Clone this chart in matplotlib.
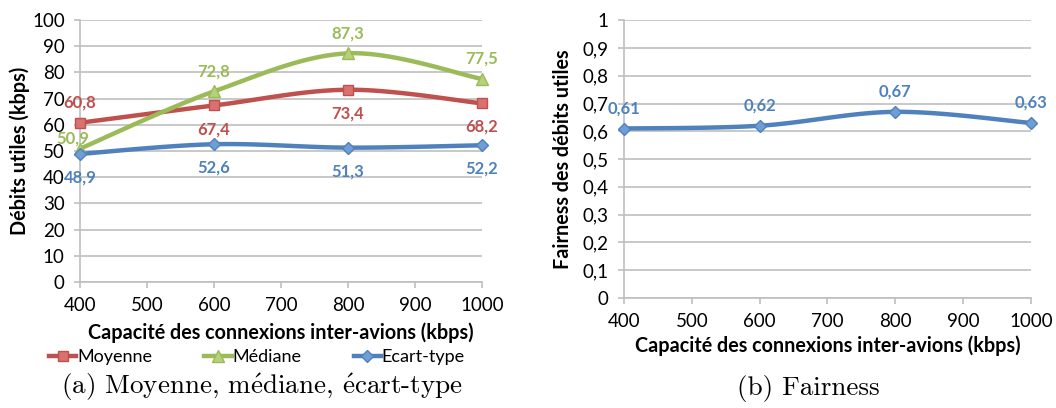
import numpy as np
import matplotlib
matplotlib.use("Agg")
import matplotlib.pyplot as plt

capacites = [400, 600, 800, 1000]
moyenne = [60.8, 67.4, 73.4, 68.2]
mediane = [50.9, 72.8, 87.3, 77.5]
ecart_type = [48.9, 52.6, 51.3, 52.2]
fairness = [0.61, 0.62, 0.67, 0.63]

x_ticks = [400, 500, 600, 700, 800, 900, 1000]
y_ticks_a = list(range(0, 101, 10))
y_ticks_b = [0, 0.1, 0.2, 0.3, 0.4, 0.5, 0.6, 0.7, 0.8, 0.9, 1]

RED = "#C0504D"; RED_F = "#D9716E"
GREEN = "#9BBB59"; GREEN_F = "#B5D17A"
BLUE = "#4F81BD"; BLUE_F = "#6F9DD6"
GRID = "#BFBFBF"
FONT = "Lato"

plt.rcParams['font.family'] = [FONT, 'DejaVu Sans']
plt.rcParams['mathtext.fontset'] = 'cm'


def smooth(xs, ys, n=40):
    xs = np.asarray(xs, float); ys = np.asarray(ys, float)
    P = np.column_stack([xs, ys])
    ext = np.vstack([P[0], P, P[-1]])
    out = []
    for i in range(len(P) - 1):
        p0, p1, p2, p3 = ext[i], ext[i + 1], ext[i + 2], ext[i + 3]
        c1 = p1 + (p2 - p0) / 6.0
        c2 = p2 - (p3 - p1) / 6.0
        t = np.linspace(0, 1, n)[:, None]
        b = ((1 - t) ** 3) * p1 + 3 * ((1 - t) ** 2) * t * c1 + 3 * (1 - t) * t ** 2 * c2 + t ** 3 * p2
        out.append(b if i == 0 else b[1:])
    B = np.vstack(out)
    return B[:, 0], B[:, 1]


def fmt(v, nd):
    return f"{v:.{nd}f}".replace(".", ",")


def style_axes(ax, yticks, ylim, yfmt):
    ax.set_xlim(400, 1000)
    ax.set_ylim(*ylim)
    ax.set_xticks(x_ticks)
    ax.set_yticks(yticks)
    ax.set_yticklabels([yfmt(v) for v in yticks])
    ax.grid(axis='y', color=GRID, linewidth=1.2)
    ax.set_axisbelow(True)
    for s in ['top', 'right']:
        ax.spines[s].set_visible(False)
    for s in ['left', 'bottom']:
        ax.spines[s].set_color(GRID)
        ax.spines[s].set_linewidth(1.2)
    ax.tick_params(axis='both', direction='out', length=4, width=1.2, color=GRID,
                   labelsize=13.5, labelcolor='black')
    ax.tick_params(axis='x', pad=7)
    ax.tick_params(axis='y', pad=7)


fig = plt.figure(figsize=(10.56, 4.08), dpi=100)
ax1 = fig.add_axes([0.0758, 0.3088, 0.3807, 0.642])
ax2 = fig.add_axes([0.5909, 0.2696, 0.3854, 0.681])

style_axes(ax1, y_ticks_a, (0, 100), lambda v: str(int(v)))
style_axes(ax2, y_ticks_b, (0, 1), lambda v: "0" if v == 0 else ("1" if v == 1 else fmt(v, 1)))

# label offsets (points): (dx, dy)
ABOVE = (0, 14.5)
BELOW = (0, -17)
series = [
    ("Moyenne", moyenne, RED, RED_F, 's', 7.5, [ABOVE, BELOW, BELOW, BELOW]),
    ("Médiane", mediane, GREEN, GREEN_F, '^', 8.5, [(-5.5, 7), ABOVE, ABOVE, ABOVE]),
    ("Ecart-type", ecart_type, BLUE, BLUE_F, 'D', 6.5, [BELOW, BELOW, BELOW, BELOW]),
]

handles = []
for name, vals, col, fcol, mk, ms, pos in series:
    sx, sy = smooth(capacites, vals)
    ax1.plot(sx, sy, color=col, linewidth=3.2, solid_capstyle='round', zorder=3, clip_on=False)
    ax1.plot(capacites, vals, linestyle='none', marker=mk, markersize=ms,
             markerfacecolor=fcol, markeredgecolor=col, markeredgewidth=1, zorder=4, clip_on=False)
    h, = ax1.plot([], [], color=col, linewidth=3.2, marker=mk, markersize=ms,
                  markerfacecolor=fcol, markeredgecolor=col, label=name)
    handles.append(h)
    for xv, yv, off in zip(capacites, vals, pos):
        ax1.annotate(fmt(yv, 1), (xv, yv), xytext=off, textcoords='offset points',
                     ha='center', va='center', fontsize=12, fontweight='bold', color=col,
                     annotation_clip=False, zorder=5)

sx, sy = smooth(capacites, fairness)
ax2.plot(sx, sy, color=BLUE, linewidth=3.2, solid_capstyle='round', zorder=3, clip_on=False)
ax2.plot(capacites, fairness, linestyle='none', marker='D', markersize=6.5,
         markerfacecolor=BLUE_F, markeredgecolor=BLUE, markeredgewidth=1, zorder=4, clip_on=False)
for xv, yv in zip(capacites, fairness):
    ax2.annotate(fmt(yv, 2), (xv, yv), xytext=(0, 14.5), textcoords='offset points',
                 ha='center', va='center', fontsize=12, fontweight='bold', color=BLUE,
                 annotation_clip=False, zorder=5)

ax1.set_xlabel("Capacité des connexions inter-avions (kbps)", fontsize=14.2, fontweight='bold')
ax1.set_ylabel("Débits utiles (kbps)", fontsize=14.2, fontweight='bold')
ax2.set_xlabel("Capacité des connexions inter-avions (kbps)", fontsize=14.2, fontweight='bold')
ax2.set_ylabel("Fairness des débits utiles", fontsize=14.2, fontweight='bold')
ax1.xaxis.set_label_coords(0.5, -0.156)
ax2.xaxis.set_label_coords(0.5, -0.133)
ax1.yaxis.set_label_coords(-0.124, 0.5)
ax2.yaxis.set_label_coords(-0.125, 0.5)

fig.legend(handles=handles, loc='center', bbox_to_anchor=(257 / 1056, 1 - 357 / 408), ncol=3,
           frameon=False, fontsize=13, handlelength=1.5, handletextpad=0.05,
           columnspacing=2.9, borderaxespad=0)

fig.text(262 / 1056, 1 - 387 / 408, r"(a) Moyenne, m$\acute{\mathrm{e}}$diane, $\acute{\mathrm{e}}$cart-type",
         ha='center', va='center', fontsize=19.5, family='cmr10')
fig.text(808 / 1056, 1 - 389 / 408, "(b) Fairness", ha='center', va='center',
         fontsize=19.5, family='cmr10')

fig.savefig("out.png", dpi=100)
